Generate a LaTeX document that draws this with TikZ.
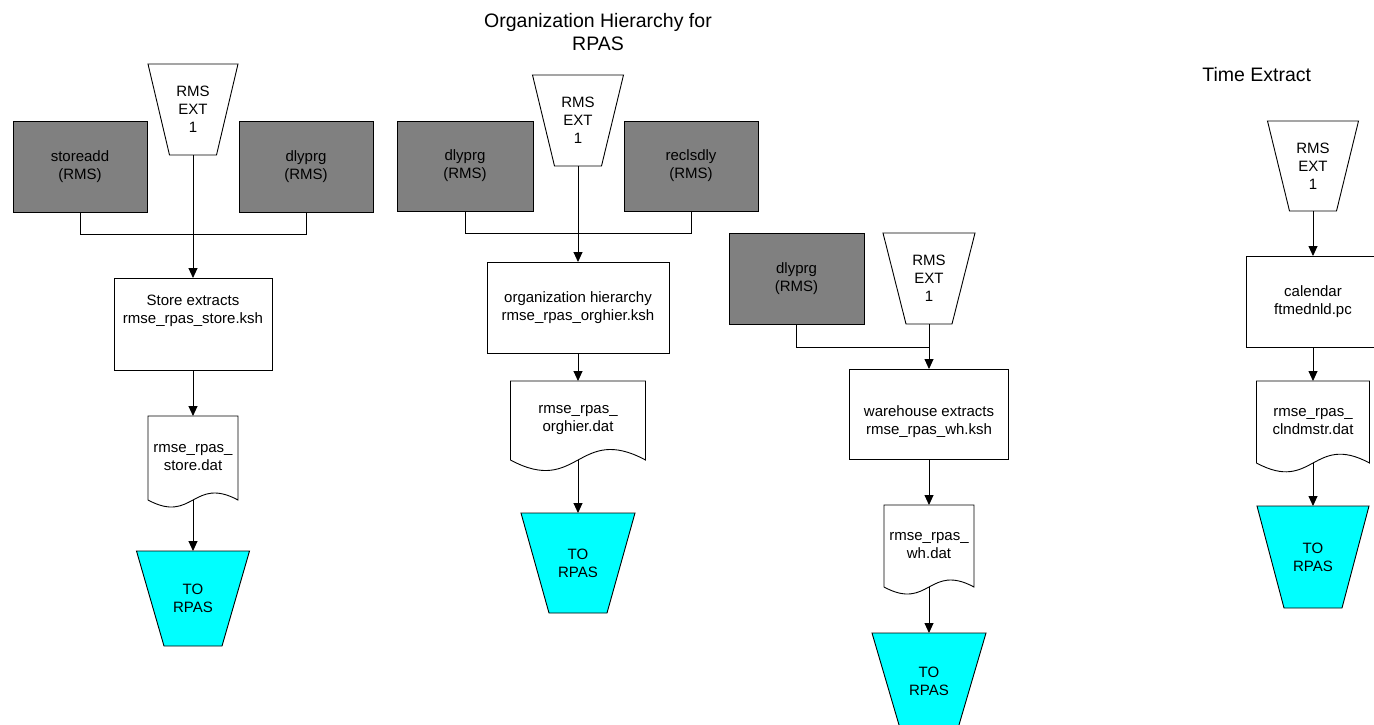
\documentclass[tikz,border=0pt]{standalone}
\usepackage{fontspec}
\setmainfont{Liberation Sans}
\usetikzlibrary{arrows.meta}
\definecolor{boxgrey}{HTML}{808080}
\definecolor{rpascyan}{HTML}{00FFFF}
\tikzset{
  txt/.style={font=\fontsize{15}{18}\selectfont, align=center, inner sep=0pt, outer sep=0pt},
  greybox/.style={draw, fill=boxgrey, txt},
  procbox/.style={draw, fill=white, txt},
  flow/.style={-{Triangle[length=10pt,width=9pt]}},
  ttl/.style={font=\fontsize{19.5}{23}\selectfont, align=center, inner sep=0pt}
}
% trapezoid: name, cx, ytop, ybot, half top width, half bottom width, fill, text
\newcommand\trapz[8]{%
  \draw[fill=#7] ({#2-#5},#3) -- ({#2+#5},#3) -- ({#2+#6},#4) -- ({#2-#6},#4) -- cycle;
  \node[txt, minimum width={2*#6*1pt}, minimum height={(#4-#3)*1pt}] (#1) at (#2,{(#3+#4)/2}) {#8};
}
% document shape: name, cx, ytop, ybot, half width, text
\newcommand\docshape[6]{%
  \draw[fill=white] ({#2-#5},#4) -- ({#2-#5},#3) -- ({#2+#5},#3) -- ({#2+#5},#4)
    .. controls (#2,{#4-0.54*#5}) and (#2,{#4+0.54*#5}) .. ({#2-#5},#4);
  \node[txt, minimum width={2*#5*1pt}, minimum height={(#4-#3)*1pt}] (#1) at (#2,{(#3+#4)/2}) {#6};
}
\begin{document}
\begin{tikzpicture}[x=1pt, y=-1pt, line width=0.9pt]
\useasboundingbox (0,0) rectangle (1374,724);
\clip (0,0) rectangle (1374,724);

% ---------- Store column ----------
\trapz{ext1}{193}{64}{155}{45}{23.5}{white}{RMS\\EXT\\1}
\node[greybox, minimum width=134pt, minimum height=91pt] (sa) at (80,166.5) {storeadd\\(RMS)};
\node[greybox, minimum width=134pt, minimum height=91pt] (dp1) at (306,166.5) {dlyprg\\(RMS)};
\node[procbox, minimum width=158pt, minimum height=92pt] (se) at (193,324) {};
\node[txt] (se-t) at (193,311) {Store extracts\\rmse\_rpas\_store.ksh};
\docshape{sd}{193}{416}{500}{45}{rmse\_rpas\_\\store.dat}
\trapz{tr1}{193}{551}{646}{56.5}{29}{rpascyan}{TO\\RPAS}
\draw (sa.south) -- ++(0,22) -| (dp1.south);
\draw[flow] (ext1.south) -- (se.north);
\draw[flow] (se.south) -- (sd.north);
\draw[flow] (sd.south) -- (tr1.north);

% ---------- Organization column ----------
\node[ttl] (t1) at (598,32) {Organization Hierarchy for\\RPAS};
\trapz{ext2}{578}{75}{166}{45.5}{23.5}{white}{RMS\\EXT\\1}
\node[greybox, minimum width=136pt, minimum height=90pt] (dp2) at (465,166) {dlyprg\\(RMS)};
\node[greybox, minimum width=134pt, minimum height=90pt] (rc) at (691,166) {reclsdly\\(RMS)};
\node[procbox, minimum width=182pt, minimum height=91pt] (oh) at (578,307.5) {organization hierarchy\\rmse\_rpas\_orghier.ksh};
\docshape{od}{578}{381}{460}{67.5}{rmse\_rpas\_\\orghier.dat}
\trapz{tr2}{578}{513}{613}{57}{29}{rpascyan}{TO\\RPAS}
\draw (dp2.south) -- ++(0,22) -| (rc.south);
\draw[flow] (ext2.south) -- (oh.north);
\draw[flow] (oh.south) -- (od.north);
\draw[flow] (od.south) -- (tr2.north);

% ---------- Warehouse column ----------
\node[greybox, minimum width=135pt, minimum height=91pt] (dp3) at (796.5,278.5) {dlyprg\\(RMS)};
\trapz{ext3}{929}{233}{324}{46}{23}{white}{RMS\\EXT\\1}
\coordinate (jw) at (929,347);
\node[procbox, minimum width=159pt, minimum height=90pt] (wh) at (929,414) {};
\node[txt] (wh-t) at (929,422) {warehouse extracts\\rmse\_rpas\_wh.ksh};
\docshape{wd}{929}{505}{587}{45}{rmse\_rpas\_\\wh.dat}
\trapz{tr3}{929}{633}{730}{57}{28.5}{rpascyan}{TO\\RPAS}
\draw (dp3.south) |- (jw);
\draw[flow] (ext3.south) -- (wh.north);
\draw[flow] (wh.south) -- (wd.north);
\draw[flow] (wd.south) -- (tr3.north);

% ---------- Time column ----------
\node[ttl, anchor=west] (t2) at (1202,75) {Time Extract};
\trapz{ext4}{1313}{121}{211}{45.5}{23.5}{white}{RMS\\EXT\\1}
\node[procbox, minimum width=134pt, minimum height=91pt] (cal) at (1313,301.5) {calendar\\ftmednld.pc};
\docshape{cd}{1313}{381}{463}{56.5}{rmse\_rpas\_\\clndmstr.dat}
\trapz{tr4}{1313}{506}{608}{56}{29}{rpascyan}{TO\\RPAS}
\draw[flow] (ext4.south) -- (cal.north);
\draw[flow] (cal.south) -- (cd.north);
\draw[flow] (cd.south) -- (tr4.north);
\end{tikzpicture}
\end{document}
